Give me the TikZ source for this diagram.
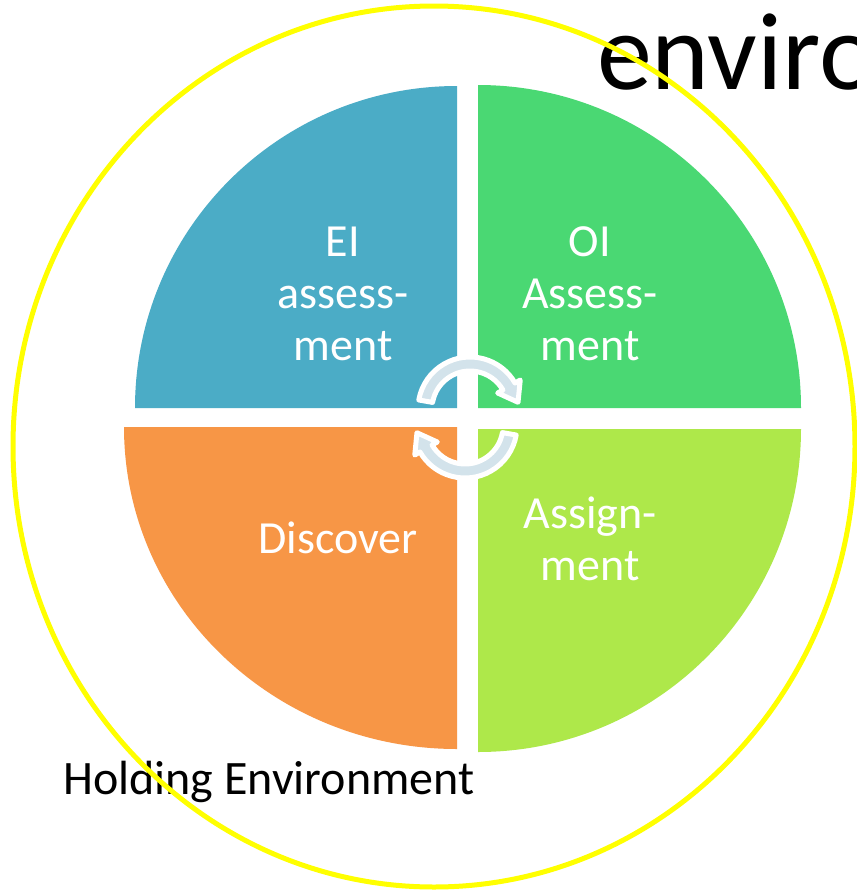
\documentclass[tikz,border=0pt]{standalone}
\usepackage{fontspec}
\setmainfont{Carlito}
\definecolor{qblue}{HTML}{4BACC6}
\definecolor{qgreen}{HTML}{4AD873}
\definecolor{qorange}{HTML}{F79646}
\definecolor{qlime}{HTML}{AEE84A}
\definecolor{arrowfill}{HTML}{D3E3EB}
\definecolor{ringyellow}{HTML}{FFFF00}
\begin{document}
\begin{tikzpicture}[x=1pt,y=-1pt,
  qlabel/.style={text=white, font=\fontsize{46}{52}\selectfont, align=center, text width=220pt, anchor=base, inner sep=0pt},
  blacklabel/.style={text=black, anchor=base west, inner sep=0pt},
  cyc/.style={fill=arrowfill, draw=white, line width=5pt, line join=round}]
\useasboundingbox (0,0) rectangle (857,892);
\fill[white] (0,0) rectangle (857,892);
% quadrants
\fill[qblue] (457,408) -- (135,408) arc[start angle=180, end angle=270, radius=322] -- cycle;
\fill[qgreen] (478,408) -- (478,85) arc[start angle=270, end angle=360, radius=323] -- cycle;
\fill[qorange] (457,427) -- (124,427) arc[start angle=180, end angle=90, x radius=333, y radius=322] -- cycle;
\fill[qlime] (478,429) -- (801,429) arc[start angle=0, end angle=90, radius=323] -- cycle;
% cycle arrows
\begin{scope}[shift={(470,409)}]
\filldraw[cyc] (190:38) arc[start angle=190, end angle=330, radius=38] -- (330:32) -- (352:48.5) -- (330:58) -- (330:52) arc[start angle=330, end angle=190, radius=52] -- cycle;
\end{scope}
\begin{scope}[shift={(465,426)}]
\filldraw[cyc] (10:38) arc[start angle=10, end angle=150, radius=38] -- (150:32) -- (172:48.5) -- (150:58) -- (150:52) arc[start angle=150, end angle=10, radius=52] -- cycle;
\end{scope}
% labels
\node[qlabel] (ei) at (343,256) {EI\\assess-\\ment};
\node[qlabel] (oi) at (590,256) {OI\\Assess-\\ment};
\node[qlabel] (disc) at (338,553) {Discover};
\node[qlabel] (asg) at (590,528) {Assign-\\ment};
\node[blacklabel, font=\fontsize{48}{56}\selectfont] (hold) at (63,794) {Holding Environment};
\node[blacklabel, font=\fontsize{110}{120}\selectfont] (env) at (597,89) {enviro};
% holding ring
\draw[ringyellow, line width=5pt] (434,446.5) ellipse[x radius=421, y radius=440.5];
\end{tikzpicture}
\end{document}
